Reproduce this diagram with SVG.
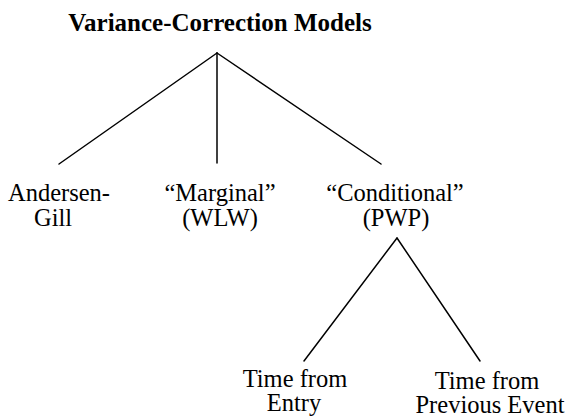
<svg xmlns="http://www.w3.org/2000/svg" width="567" height="417" viewBox="0 0 567 417">
<style>
text{font-family:"Liberation Serif","Times New Roman",serif;font-size:24.5px;fill:#000;text-anchor:middle}
.title{font-weight:bold;font-size:25px}
.edge{stroke:#000;stroke-width:1.5;fill:none;stroke-linecap:round}
</style>
<rect width="567" height="417" fill="#fff"/>
<g id="connectors">
<line class="edge" x1="217" y1="53" x2="59" y2="164"/>
<line class="edge" x1="217" y1="53" x2="217" y2="163"/>
<line class="edge" x1="217" y1="53" x2="381" y2="164"/>
<line class="edge" x1="397" y1="238" x2="304" y2="361"/>
<line class="edge" x1="397" y1="238" x2="480" y2="361"/>
</g>
<g id="root"><text class="title" x="220" y="31">Variance-Correction Models</text></g>
<g id="andersen-gill"><text x="59" y="201">Andersen-</text><text x="53" y="226">Gill</text></g>
<g id="marginal"><text x="220" y="201">“Marginal”</text><text x="220" y="226">(WLW)</text></g>
<g id="conditional"><text x="395" y="201">“Conditional”</text><text x="396" y="226">(PWP)</text></g>
<g id="time-from-entry"><text x="295" y="387">Time from</text><text x="294" y="411">Entry</text></g>
<g id="time-from-previous"><text x="487" y="389">Time from</text><text x="490" y="413">Previous Event</text></g>
</svg>
